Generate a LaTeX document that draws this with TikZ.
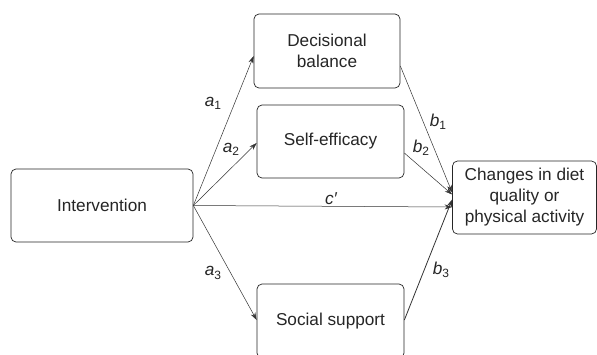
\documentclass[tikz,border=0pt]{standalone}
\usepackage{fontspec}
\setmainfont{Liberation Sans}
\usetikzlibrary{arrows.meta}
\newcommand{\lowsub}[1]{\raisebox{-0.35ex}{\fontsize{12}{12}\selectfont\upshape #1}}
\begin{document}
\begin{tikzpicture}[x=1pt,y=-1pt,
  box/.style={draw=black!85, line width=0.7pt, rounded corners=5pt, align=center,
    font=\fontsize{17.2}{21}\selectfont, inner sep=0pt, text=black!85},
  conn/.style={draw=black!80, line width=0.5pt, -{Stealth[length=7.5pt,width=5pt]}},
  lab/.style={font=\fontsize{17.2}{20}\selectfont, inner sep=0pt, text=black!85}]
\useasboundingbox (0,0) rectangle (597,354);
\fill[white] (0,0) rectangle (597,354);
\node[box, minimum width=182pt, minimum height=73pt] (int) at (102,205.5) {Intervention};
\node[box, minimum width=146pt, minimum height=74pt] (dec) at (327,51) {Decisional\\balance};
\node[box, minimum width=147pt, minimum height=73pt] (self) at (330.5,141.5) {Self-efficacy};
\node[box, minimum width=147pt, minimum height=74pt] (soc) at (330.5,321) {Social support};
\node[box, minimum width=144pt, minimum height=73pt] (out) at (524.5,197.5) {Changes in diet\\quality or\\physical activity};
\draw[conn] (int.east) -- ([yshift=-5pt]dec.west);
\draw[conn] (int.east) -- ([yshift=-1.5pt]self.west);
\draw[conn] (int.east) -- ([yshift=1pt]soc.west);
\draw[conn] (int.east) -- ([yshift=-9.5pt]out.west);
\draw[conn] ([yshift=-15pt]dec.east) -- ([yshift=5pt]out.west);
\draw[conn] ([yshift=-11.5pt]self.east) -- ([yshift=3pt]out.west);
\draw[conn, line width=0.8pt] ([yshift=1pt]soc.east) -- ([yshift=-2pt]out.west);
\node[lab] (la1) at (213,103) {\itshape a\lowsub{1}};
\node[lab] (la2) at (231,149) {\itshape a\lowsub{2}};
\node[lab] (la3) at (213,273) {\itshape a\lowsub{3}};
\node[lab] (lc) at (331,199) {\itshape c′};
\node[lab] (lb1) at (438,122) {\itshape b\lowsub{1}};
\node[lab] (lb2) at (421,148) {\itshape b\lowsub{2}};
\node[lab] (lb3) at (441,270) {\itshape b\lowsub{3}};
\end{tikzpicture}
\end{document}
